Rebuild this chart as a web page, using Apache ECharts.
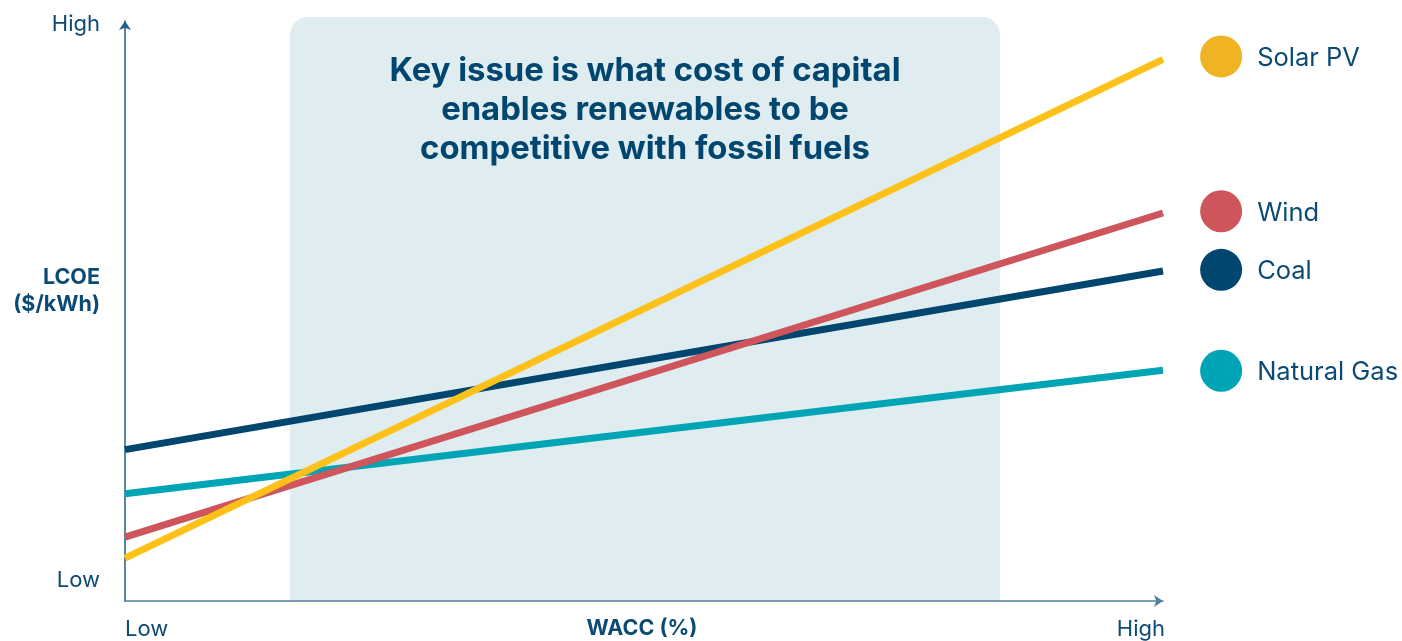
<!DOCTYPE html>
<html>
<head>
<meta charset="utf-8">
<script src="https://cdn.jsdelivr.net/npm/echarts@6/dist/echarts.min.js"></script>
<style>html,body{margin:0;padding:0;background:#fff}#c{width:1402px;height:641px}</style>
</head>
<body>
<div id="c"></div>
<script>
// WACC positions (0 = Low, 100 = High)
const xPoints = [0, 100];
// LCOE values (0 = Low, 100 = High) at Low and High WACC
const solar = [7.4, 93.4];
const wind = [11.0, 66.9];
const coal = [26.1, 56.9];
const gas = [18.5, 39.8];
const seriesNames = ['Solar PV', 'Wind', 'Coal', 'Natural Gas'];
const legendX = 105.6;
const legendY = [93.9, 67.2, 57.1, 39.7];
// highlighted WACC range
const shadeRange = [15.9, 84.3];
const shadeTop = 100.7;
const annotation = 'Key issue is what cost of capital\nenables renewables to be\ncompetitive with fossil fuels';

const lineColors = ['#FDC11A', '#CE555C', '#00466F', '#00A5B5'];
const dotColors = ['#F0B323', '#CE555C', '#00466F', '#00A5B5'];
const textColor = '#0B4A75';
const font = 'Inter, Roboto, sans-serif';

const chart = echarts.init(document.getElementById('c'), null, {renderer: 'canvas'});

function pts(arr) { return xPoints.map((x, i) => [x, arr[i]]); }
const lineData = [solar, wind, coal, gas];

const series = [
  {
    type: 'custom',
    z: 0,
    silent: true,
    clip: false,
    data: [[shadeRange[0], shadeRange[1]]],
    renderItem: function (params, api) {
      const p0 = api.coord([api.value(0), shadeTop]);
      const p1 = api.coord([api.value(1), 0]);
      return {
        type: 'rect',
        shape: {x: p0[0], y: p0[1], width: p1[0] - p0[0], height: p1[1] - p0[1], r: [18, 18, 0, 0]},
        style: {fill: '#DFECF0'}
      };
    }
  }
];
// draw order: gas, coal, wind, solar (solar on top)
[3, 2, 1, 0].forEach(i => {
  series.push({
    type: 'line',
    name: seriesNames[i],
    data: pts(lineData[i]),
    symbol: 'none',
    silent: true,
    z: 3 + (3 - i),
    lineStyle: {color: lineColors[i], width: 7, cap: 'butt'}
  });
});
series.push({
  type: 'scatter',
  clip: false,
  silent: true,
  z: 10,
  symbolSize: 42,
  data: seriesNames.map((n, i) => ({
    value: [legendX, legendY[i]],
    name: n,
    itemStyle: {color: dotColors[i], opacity: 1}
  })),
  itemStyle: {opacity: 1},
  label: {
    show: true,
    position: 'right',
    distance: 15,
    offset: [0, 2],
    formatter: p => p.name,
    color: textColor,
    opacity: 1,
    fontFamily: font,
    fontSize: 25.5
  }
});

const option = {
  animation: false,
  grid: {left: 125, right: 239, top: 21, bottom: 40},
  xAxis: {
    type: 'value', min: 0, max: 100,
    axisLine: {show: true, symbol: ['none', 'arrow'], symbolSize: [9, 9], lineStyle: {color: '#4F7FA0', width: 1.5}},
    axisTick: {show: false}, axisLabel: {show: false}, splitLine: {show: false}
  },
  yAxis: {
    type: 'value', min: 0, max: 100,
    axisLine: {show: true, symbol: ['none', 'arrow'], symbolSize: [9, 9], lineStyle: {color: '#1F5F8A', width: 1.5}},
    axisTick: {show: false}, axisLabel: {show: false}, splitLine: {show: false}
  },
  graphic: [
    {type: 'text', x: 100, y: 24, z: 20,
      style: {text: 'High', align: 'right', verticalAlign: 'middle', fill: textColor, font: '22px ' + font}},
    {type: 'text', x: 100, y: 580, z: 20,
      style: {text: 'Low', align: 'right', verticalAlign: 'middle', fill: textColor, font: '22px ' + font}},
    {type: 'text', x: 100, y: 291, z: 20,
      style: {text: 'LCOE\n($/kWh)', align: 'right', verticalAlign: 'middle', lineHeight: 27, fill: textColor, font: 'bold 21.5px ' + font}},
    {type: 'text', x: 125, y: 629, z: 20,
      style: {text: 'Low', align: 'left', verticalAlign: 'middle', fill: textColor, font: '22px ' + font}},
    {type: 'text', x: 1165, y: 629, z: 20,
      style: {text: 'High', align: 'right', verticalAlign: 'middle', fill: textColor, font: '22px ' + font}},
    {type: 'text', x: 642, y: 629, z: 20,
      style: {text: 'WACC (%)', align: 'center', verticalAlign: 'middle', fill: textColor, font: 'bold 21.5px ' + font}},
    {type: 'text', x: 645, y: 110, z: 20,
      style: {text: annotation, align: 'center', verticalAlign: 'middle', lineHeight: 39, fill: '#00466F', font: 'bold 32.8px ' + font}}
  ],
  series: series
};
chart.setOption(option);
</script>
</body>
</html>
